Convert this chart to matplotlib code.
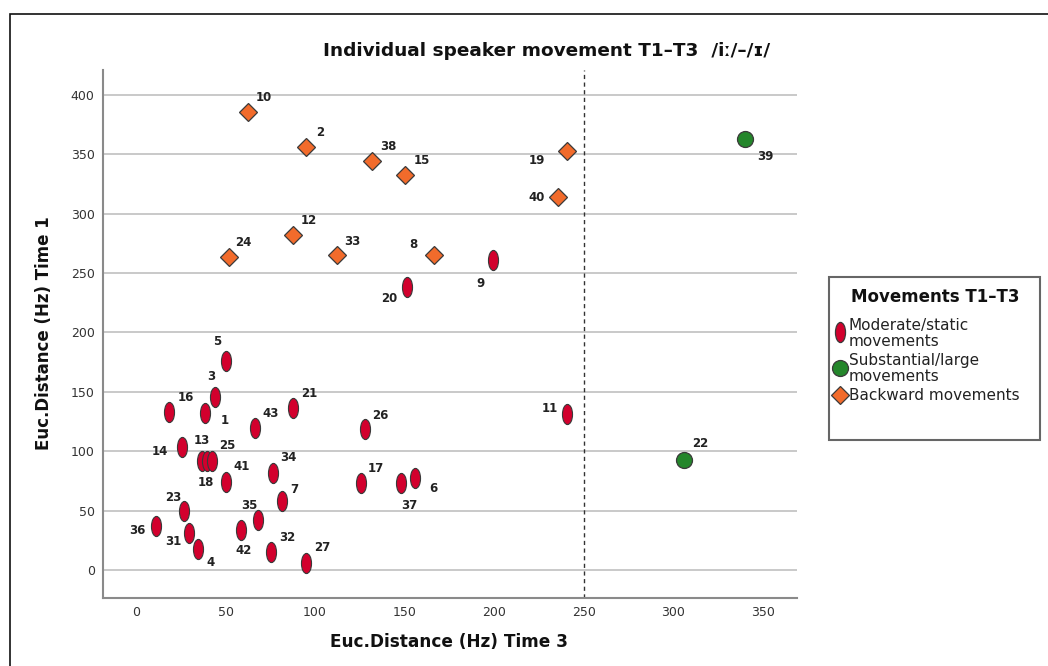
import matplotlib
matplotlib.use("Agg")
import matplotlib.pyplot as plt
import numpy as np
from matplotlib.path import Path
from matplotlib.patches import Rectangle
from matplotlib.lines import Line2D

# ---------------- data ----------------
moderate_ids = ["9", "20", "11", "26", "17", "37", "6", "5", "3", "16", "1", "21", "43", "14",
                "13", "18", "25", "41", "34", "7", "23", "36", "31", "4", "35", "42", "32", "27"]
moderate_x = [199.3, 151.4, 240.4, 127.7, 125.5, 148.2, 156.0, 50.3, 44.0, 18.6, 38.7, 87.5, 66.5, 25.9,
              37.0, 39.8, 42.5, 50.3, 76.4, 81.7, 26.8, 11.0, 29.8, 34.5, 68.3, 58.8, 75.4, 94.8]
moderate_y = [261.0, 238.0, 131.4, 118.5, 73.0, 73.0, 77.5, 176.0, 146.0, 133.3, 132.0, 136.0, 119.3, 103.3,
              91.8, 91.8, 91.8, 74.0, 82.0, 58.4, 49.7, 37.0, 30.9, 17.4, 41.8, 34.0, 15.4, 6.2]

large_ids = ["39", "22"]
large_x = [340.0, 306.0]
large_y = [363.0, 92.6]

backward_ids = ["10", "2", "38", "15", "19", "40", "12", "24", "33", "8"]
backward_x = [62.7, 95.0, 131.7, 150.0, 240.4, 235.8, 87.9, 51.8, 112.0, 166.5]
backward_y = [386.0, 356.5, 344.7, 332.6, 353.0, 313.8, 282.4, 263.8, 265.3, 265.5]

x_ticks = [0, 50, 100, 150, 200, 250, 300, 350]
y_ticks = [0, 50, 100, 150, 200, 250, 300, 350, 400]
cutoff_x = 250

title = "Individual speaker movement T1\u2013T3  /i\u02d0/\u2013/\u026a/"
x_label = "Euc.Distance (Hz) Time 3"
y_label = "Euc.Distance (Hz) Time 1"
legend_title = "Movements T1\u2013T3"
legend_labels = ["Moderate/static\nmovements", "Substantial/large\nmovements", "Backward movements"]

# ---------------- layout (label offsets in pixels: dx right, dy up) ----------------
label_offsets = {
    "10": (16, 14), "2": (14, 14), "38": (16, 14), "15": (17, 14), "19": (-30, -10),
    "40": (-22, 0), "12": (15, 14), "24": (15, 14), "33": (16, 13), "8": (-21, 10),
    "9": (-12, -23), "20": (-18, -11), "39": (20, -18), "22": (16, 17),
    "5": (-9, 19), "3": (-4, 20), "16": (17, 14), "1": (19, -7), "21": (17, 15),
    "43": (16, 15), "14": (-22, -4), "13": (0, 20), "25": (15, 15), "18": (-1, -22),
    "41": (16, 16), "34": (16, 15), "7": (12, 11), "23": (-11, 13), "36": (-18, -4),
    "31": (-16, -8), "4": (13, -13), "35": (-9, 15), "42": (2, -21), "32": (16, 14),
    "27": (16, 15), "26": (16, 14), "17": (15, 15), "37": (8, -22), "6": (18, -11),
    "11": (-17, 5),
}

RED = "#d2002d"
GREEN = "#24862b"
ORANGE = "#f26b2b"
EDGE = "#3a3a3a"

W, H = 1048, 666
fig = plt.figure(figsize=(W / 100, H / 100), dpi=100)

def fx(px):
    return px / W

def fy(py):
    return 1 - py / H

ax = fig.add_axes([fx(103), fy(598), fx(797) - fx(103), fy(70) - fy(598)])

ellipse_verts = Path.unit_circle().vertices * np.array([0.5, 1.0])
ellipse_marker = Path(ellipse_verts, Path.unit_circle().codes)

for yt in y_ticks:
    ax.axhline(yt, color="#c9c9c9", lw=1.4, zorder=0)
ax.axvline(cutoff_x, color="#333333", lw=1.0, ls=(0, (3, 2.5)), zorder=1)

ax.plot(moderate_x, moderate_y, ls="none", marker=ellipse_marker, ms=14.5,
        mfc=RED, mec=EDGE, mew=0.8, zorder=3)
ax.plot(large_x, large_y, ls="none", marker="o", ms=11.5,
        mfc=GREEN, mec=EDGE, mew=0.9, zorder=3)
ax.plot(backward_x, backward_y, ls="none", marker="D", ms=9.3,
        mfc=ORANGE, mec=EDGE, mew=0.9, zorder=3)

for ids, xs, ys in [(moderate_ids, moderate_x, moderate_y),
                    (large_ids, large_x, large_y),
                    (backward_ids, backward_x, backward_y)]:
    for i, xv, yv in zip(ids, xs, ys):
        dx, dy = label_offsets[i]
        ax.annotate(i, (xv, yv), xytext=(dx * 0.72, dy * 0.72), textcoords="offset points",
                    ha="center", va="center", fontsize=8.5, fontweight="bold",
                    color="#222222", zorder=4)

ax.set_xlim(-18.4, 369)
ax.set_ylim(-23.6, 421)
ax.set_xticks(x_ticks)
ax.set_yticks(y_ticks)
ax.tick_params(length=0, labelsize=9, colors="#333333", pad=6)
for s in ["top", "right"]:
    ax.spines[s].set_visible(False)
for s in ["left", "bottom"]:
    ax.spines[s].set_color("#8a8a8a")
    ax.spines[s].set_linewidth(1.5)

fig.text(fx(547), fy(51), title, ha="center", va="center", fontsize=13.3, fontweight="bold",
         color="#111111")
fig.text(fx(449), fy(642), x_label, ha="center", va="center", fontsize=12.2, fontweight="bold",
         color="#111111")
fig.text(fx(44), fy(333), y_label, ha="center", va="center", fontsize=12, fontweight="bold",
         rotation=90, color="#111111")

# outer frame
fig.patches.append(Rectangle((fx(10), fy(700)), fx(1100), fy(14) - fy(700), transform=fig.transFigure,
                             fill=False, edgecolor="#111111", lw=1.2, zorder=0))

# legend box
fig.patches.append(Rectangle((fx(829), fy(440)), fx(1040) - fx(829), fy(277) - fy(440),
                             transform=fig.transFigure, fill=False, edgecolor="#666666", lw=1.5))
fig.text(fx(935), fy(297), legend_title, ha="center", va="center", fontsize=12, fontweight="bold",
         color="#111111")
handles = [
    dict(marker=ellipse_marker, ms=14.5, mfc=RED, y=332, ty=[325, 342]),
    dict(marker="o", ms=11.5, mfc=GREEN, y=368, ty=[360, 377]),
    dict(marker="D", ms=9.3, mfc=ORANGE, y=395, ty=[395]),
]
for h, lab in zip(handles, legend_labels):
    fig.add_artist(Line2D([fx(840)], [fy(h["y"])], transform=fig.transFigure, ls="none",
                          marker=h["marker"], ms=h["ms"], mfc=h["mfc"], mec=EDGE, mew=0.9))
    for line, ty in zip(lab.split("\n"), h["ty"]):
        fig.text(fx(849), fy(ty), line, ha="left", va="center", fontsize=11, color="#222222")

fig.savefig("out.png", dpi=100)
